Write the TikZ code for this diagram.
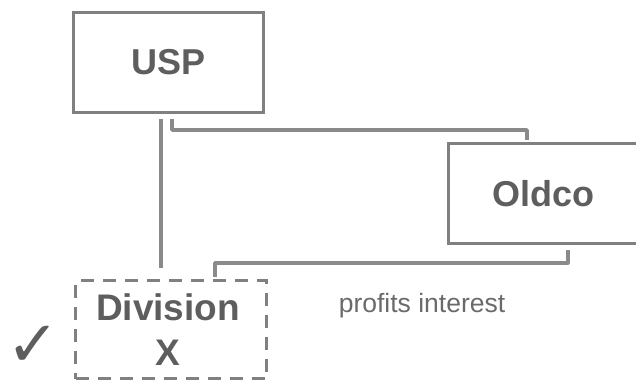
\documentclass[tikz,border=0pt]{standalone}
\usepackage{fontspec}
\setmainfont{Liberation Sans}
\newfontfamily\symfont{DejaVu Sans}
\usetikzlibrary{calc,shadows}
\definecolor{boxgray}{HTML}{808080}
\definecolor{linegray}{HTML}{8A8A8A}
\definecolor{txtgray}{HTML}{5E5E5E}
\definecolor{lbgray}{HTML}{6A6A6A}
\tikzset{
  entity/.style={draw=boxgray, line width=3pt, fill=white, minimum width=190pt, minimum height=100pt,
     inner sep=0pt, font=\fontsize{36}{40}\selectfont\bfseries, text=txtgray, align=center,
     drop shadow={shadow xshift=1.8pt, shadow yshift=-1.8pt, fill=boxgray, opacity=1}},
  dashedbox/.style={draw=boxgray, line width=3.2pt, dash pattern=on 13pt off 9pt, minimum width=191pt,
     minimum height=98pt, inner sep=0pt},
  divtext/.style={font=\fontsize{37}{45}\selectfont\bfseries, text=txtgray, align=center, inner sep=0pt},
  conn/.style={draw=linegray, line width=3.4pt, line join=round},
  lbl/.style={font=\fontsize{26.5}{30}\selectfont, text=lbgray, inner sep=0pt},
  checkmark/.style={font=\symfont\bfseries\fontsize{64}{68}\selectfont, text=txtgray, inner sep=0pt,
     text height=40pt, text depth=0pt},
}
\begin{document}
\begin{tikzpicture}[x=1pt,y=-1pt]
\useasboundingbox (0,0) rectangle (636,382);
\clip (0,0) rectangle (636,382);
\node[entity] (usp) at (168.5,62.5) {USP};
\node[entity] (old) at (543.5,193.5) {Oldco};
\node[dashedbox] (div) at (171,329.5) {};
\node[divtext] (divtxt) at (168,330) {Division\\X};
\node[lbl] (pi) at (422,306) {profits interest};
\node[checkmark, anchor=base] (chk) at (33,366) {✓};
\draw[conn] ($(usp.south)+(-7.5,5)$) -- ($(div.north)+(-10,-11)$);
\draw[conn] ($(usp.south)+(3.5,5)$) |- ($(old.north)+(-16.5,-12)$) -- ($(old.north)+(-16.5,-2)$);
\draw[conn] ($(old.south)+(24.5,5)$) |- ($(div.north)+(44,-16)$) -- ($(div.north)+(44,-2)$);
\end{tikzpicture}
\end{document}
